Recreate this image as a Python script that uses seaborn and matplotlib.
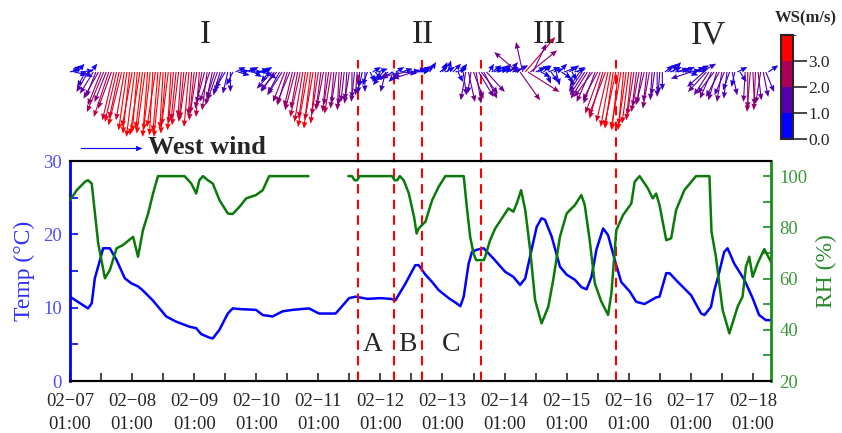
import numpy as np
import pandas as pd
import matplotlib
matplotlib.use("Agg")
import matplotlib.pyplot as plt
import seaborn as sns
from matplotlib.colors import LinearSegmentedColormap, ListedColormap, BoundaryNorm, Normalize
import matplotlib.colorbar as mcolorbar

nan = np.nan

# ---------------- data (hours since 02-07 01:00) ----------------
temp_hours = [0, 3, 7, 8.4, 9.6, 11.6, 12.8, 15.4, 18, 21.2, 23.8, 26.3, 28, 32, 37.2, 41,
              46.2, 48.8, 50.7, 54, 55.2, 57.8, 61, 62.9, 66, 71.9, 74.5, 78.3, 82.2, 86,
              92.4, 96.3, 102.7, 107.9, 110.4, 115, 120, 124, 125.8, 129.7, 133.5, 134.8,
              137.4, 140, 142.5, 146.4, 149, 150.9, 152.2, 154.1, 155.4, 157.3, 159.9,
              163.7, 168.2, 171.4, 174, 176, 177.8, 180.4, 182.3, 183.6, 186.2, 189.4, 192,
              195.2, 197.7, 199.7, 201.6, 203.5, 206.1, 208, 210.6, 213.1, 216.4, 218.9,
              222.1, 226.6, 227.9, 230.5, 231.8, 235, 240.1, 244, 245.3, 247.8, 249.1,
              250.4, 252.9, 254.2, 256.8, 260.7, 263.9, 266.4, 269, 271]
temp_values = [11.5, 10.8, 9.9, 10.6, 14.0, 16.5, 18.1, 18.1, 16.5, 14.0, 13.3, 12.9, 12.4,
               11.0, 8.8, 8.1, 7.4, 7.2, 6.4, 5.9, 5.8, 7.0, 9.2, 9.9, 9.8, 9.7, 9.0, 8.8,
               9.5, 9.7, 9.9, 9.2, 9.2, 11.3, 11.5, 11.2, 11.3, 11.2, 11.0, 13.3, 15.8, 15.8,
               14.5, 13.5, 12.4, 11.3, 10.7, 10.2, 11.5, 16.0, 17.6, 17.9, 18.1, 16.7, 14.9,
               14.2, 13.1, 14.0, 16.9, 21.0, 22.2, 22.0, 19.7, 15.6, 14.5, 13.8, 12.8, 12.5,
               14.2, 17.9, 20.8, 19.9, 16.5, 13.5, 12.2, 10.8, 10.5, 11.4, 11.5, 14.7, 14.7,
               13.5, 11.7, 9.2, 9.0, 10.1, 12.4, 14.0, 17.6, 18.1, 16.0, 13.8, 11.3, 9.0,
               8.3, 8.3]

rh_hours = [0, 2.6, 5.8, 7, 8.4, 10.9, 13.5, 15.4, 18, 20.5, 24.4, 26.3, 28.2, 30.2, 32.1,
            34, 44.3, 46.9, 48.8, 50, 51.4, 53.3, 55.2, 57.8, 61, 62.9, 65.5, 68.1, 71.9,
            74.5, 77, 92.2, 92.5, 107.6, 109, 110, 111, 112, 124.5, 125.5, 126.5, 127.5,
            129, 131, 133, 134, 134.8, 137.4, 140, 142.5, 145.1, 152.2, 153.4, 154.7, 156,
            157, 160, 160.5, 162.4, 164.4, 166.9, 169.5, 171.4, 172.7, 174.4, 176, 177.9,
            179.8, 182.3, 184.9, 186.8, 189.4, 192, 195.2, 197.7, 199, 200.9, 202.9, 205.4,
            208, 209.3, 211.2, 213.8, 217, 218.3, 220.2, 223.4, 225.3, 226.6, 227.9, 230.5,
            232.4, 234.3, 237.5, 240.7, 242, 247.2, 248, 249.7, 252.3, 254.9, 258.1, 260,
            261.3, 262.6, 263.9, 265.8, 268.4, 271]
rh_values = [90.6, 94.5, 97.8, 98.4, 97.1, 73.7, 60.1, 63.3, 71.8, 73.1, 76.3, 68.5, 78.9,
             85.4, 93.2, 100, 100, 97.1, 93.2, 98.4, 100, 98.4, 97.1, 90.6, 85.4, 85.2, 88.0,
             91.3, 92.6, 94.5, 100, 100, nan, 100, 100, 98.4, 98.4, 100, 100, 98.4, 98.4,
             100, 98.4, 93.2, 84.1, 77.6, 79.6, 82.2, 90.6, 95.8, 100, 100, 88.0, 76.3, 69.8,
             67.2, 67.2, 68.5, 75.0, 79.6, 83.4, 87.4, 86.1, 89.3, 94.5, 86.7, 71.1, 51.6,
             42.5, 49.0, 59.4, 76.3, 85.4, 88.7, 92.6, 88.7, 75.0, 58.1, 51.0, 45.8, 54.2,
             78.9, 84.8, 89.3, 97.8, 100, 95.2, 91.3, 93.2, 88.7, 75.0, 75.7, 86.7, 94.5,
             98.4, 100, 100, 78.3, 68.5, 47.7, 38.6, 49.0, 52.9, 64.6, 68.5, 60.7, 65.9,
             71.5, 66.5]

# hourly wind components (m/s), hour 0 .. 270
wind_u = [0.6, 0.5, 0.7, 0.4, 0.8, 0.6, -0.5, -0.7, 0.4, -0.8,
          -0.6, -0.9, -0.8, -1.0, -0.7, -0.9, -0.8, -0.7, -0.7, -0.6,
          -0.8, -0.5, -0.5, -0.4, -0.6, -0.5, -0.3, -0.6, -0.4, -0.5,
          -0.3, -0.4, -0.2, -0.5, -0.3, -0.4, -0.2, -0.3, -0.4, -0.2,
          -0.3, -0.3, -0.4, -0.2, -0.3, -0.4, -0.3, -0.2, -0.3, -0.4,
          -0.2, -0.4, -0.5, -0.3, -0.6, -0.4, -0.5, -0.6, -0.4, -0.5,
          -0.6, -0.3, 0.0, -0.4, 0.6, 0.7, 0.5, 0.8, nan, 0.6,
          0.7, 0.5, 0.8, 0.6, 0.7, 0.5, 0.6, -0.5, -0.9, -0.8,
          -1.0, -0.7, -0.9, -0.7, -0.6, -0.8, -0.5, -0.6, -0.4, -0.6,
          -0.5, -0.4, -0.6, -0.4, -0.5, -0.3, -0.4, -0.3, -0.4, -0.2,
          -0.3, -0.4, -0.2, -0.3, -0.1, -0.2, -0.2, -0.1, -0.3, 0.0,
          -0.2, -0.1, -0.1, -0.2, 0.0, -0.3, 0.3, 0.5, 0.4, 0.6,
          -0.5, -0.6, -0.3, -0.7, 0.6, -0.8, 0.5, -0.6, 0.7, 0.8,
          -1.5, 0.7, 0.9, -1.3, 0.8, 0.7, 0.5, 0.6, nan, 0.4,
          nan, nan, nan, 0.5, 0.3, 0.6, 0.2, nan, 0.5, 0.7,
          0.3, 0.4, 0.2, -0.3, 0.4, -0.2, 0.6, 0.3, 0.9, 1.0,
          0.8, 1.1, 0.3, 0.6, 0.5, 0.7, 0.5, 0.6, 0.4, 0.7,
          0.5, 0.6, 0.8, -1.4, 1.2, -0.4, 1.8, 1.9, 1.6, 0.8,
          0.6, 0.7, 0.6, 0.5, 0.3, 0.7, 0.4, 0.6, 0.2, 0.5,
          0.6, 0.8, 0.4, 0.6, 0.3, 0.7, 0.5, -0.6, -0.8, -0.9,
          -1.0, -0.8, -1.1, -0.7, -0.9, -0.9, -0.8, -1.0, -0.7, -0.6,
          -0.5, -0.7, -0.4, -0.6, -0.3, -0.5, -0.4, -0.3, -0.4, -0.3,
          -0.4, -0.3, -0.5, -0.2, -0.4, -0.1, -0.2, 0.0, -0.1, 0.0,
          0.5, 0.6, 0.7, 0.5, 0.8, 0.8, nan, 0.7, 0.9, 0.6,
          -1.2, 0.7, 0.8, 0.6, 0.9, -1.0, -1.1, -0.9, -0.7, -1.0,
          -0.5, -0.8, -0.3, -0.6, -0.2, -0.4, 0.3, -0.2, 0.6, 0.4,
          nan, -0.1, 0.0, -0.2, 0.1, -0.1, 0.2, -0.3, 0.3, 0.5, 0.6]
wind_v = [0.2, 0.4, -0.2, 0.5, 0.1, -0.3, -0.9, -1.2, 0.5, -1.3,
          -1.5, -1.6, -2.0, -2.4, -1.8, -2.7, -2.2, -2.9, -3.0, -2.8,
          -3.2, -2.9, -3.5, -3.7, -3.3, -3.9, -3.6, -3.8, -3.4, -3.7,
          -3.9, -3.5, -3.8, -3.3, -3.6, -3.9, -3.4, -3.7, -3.2, -3.5,
          -3.1, -2.9, -3.2, -2.7, -3.0, -2.8, -3.3, -2.6, -2.9, -2.5,
          -2.7, -2.2, -1.9, -2.3, -1.8, -2.0, -1.6, -1.7, -1.4, -1.2,
          -1.0, -1.3, -1.2, -0.8, 0.3, -0.2, 0.1, 0.2, nan, 0.3,
          0.0, -0.3, 0.1, 0.2, -0.2, 0.3, -0.4, -0.6, -1.0, -1.2,
          -1.1, -1.3, -1.4, -1.8, -2.0, -1.9, -2.1, -2.3, -2.2, -2.7,
          -3.0, -2.8, -3.3, -3.4, -2.9, -3.1, -2.6, -2.3, -2.1, -2.4,
          -2.0, -2.5, -2.2, -1.9, -2.3, -2.0, -1.8, -1.7, -1.9, -1.6,
          -1.8, -1.4, -1.3, -0.9, -1.2, -0.8, -0.6, 0.3, -0.5, 0.2,
          -0.6, -0.8, -1.2, -0.5, -0.3, -0.4, 0.3, -0.6, 0.2, -0.1,
          -0.3, 0.1, 0.2, -0.4, 0.1, 0.3, 0.1, 0.4, nan, 0.6,
          nan, nan, nan, 0.4, 0.6, 0.3, 0.7, nan, 0.5, 0.2,
          -0.6, 0.5, -1.4, -1.7, -1.8, -1.3, -1.6, -1.9, -1.5, -1.3,
          -1.6, -1.2, 0.5, 0.4, 0.3, 0.2, 0.4, 0.2, 0.5, 0.3,
          0.6, 0.2, 0.4, 1.2, -1.7, 1.8, 2.1, -1.2, 1.3, 1.7,
          0.3, 0.4, -0.3, 0.4, -0.7, 0.3, -0.6, 0.2, -0.8, 0.5,
          -0.4, 0.3, -0.7, 0.4, -0.5, 0.2, 0.3, -0.9, -1.2, -1.4,
          -1.6, -1.8, -1.5, -1.9, -1.7, -2.5, -2.8, -2.6, -3.0, -3.3,
          -3.4, -3.3, -3.5, -3.4, -3.2, -3.5, -3.1, -2.9, -2.6, -2.4,
          -2.1, -1.9, -2.0, -1.8, -2.2, -1.7, -1.4, -1.5, -1.3, -1.1,
          0.4, 0.5, 0.3, 0.6, 0.2, 0.2, nan, 0.3, 0.1, -0.2,
          -0.4, 0.3, 0.4, 0.2, 0.5, -0.9, -1.2, -1.4, -1.6, -1.3,
          -1.7, -1.5, -1.8, -1.4, -1.6, -1.1, -1.4, -0.9, 0.3, -0.6,
          nan, -1.8, -2.2, -2.4, -2.0, -2.3, -1.7, -1.9, -1.5, -1.2, 0.4]

day_hours = [0, 24, 48, 72, 96, 120, 144, 168, 192, 216, 240, 264]
day_labels = ["02\u221207\n01:00", "02\u221208\n01:00", "02\u221209\n01:00", "02\u221210\n01:00",
              "02\u221211\n01:00", "02\u221212\n01:00", "02\u221213\n01:00", "02\u221214\n01:00",
              "02\u221215\n01:00", "02\u221216\n01:00", "02\u221217\n01:00", "02\u221218\n01:00"]
divider_hours = [111.2, 125.2, 135.9, 158.9, 210.9]
stage_names = ["I", "II", "III", "IV"]
stage_hours = [52.2, 136.5, 185.5, 246.6]
event_names = ["A", "B", "C"]
event_hours = [117.1, 130.3, 147.3]
ws_bounds = [0, 1, 2, 3, 4]
ws_ticks = [0, 1, 2, 3]
ws_ticklabels = ["0.0", "1.0", "2.0", "3.0"]

# ---------------- style ----------------
sns.set_style("ticks")
plt.rcParams["font.family"] = ["Liberation Serif", "DejaVu Serif"]

W, H = 842, 433
fig = plt.figure(figsize=(W / 100, H / 100), dpi=100)
ax = fig.add_axes([70 / W, 52 / H, 701 / W, 220 / H])
ax2 = ax.twinx()
axq = fig.add_axes([70 / W, 272 / H, 701 / W, 131 / H], sharex=ax)

BLUE = "#0000ff"
GREEN = "#0a7a0a"

df_t = pd.DataFrame({"hour": temp_hours, "temp": temp_values})
sns.lineplot(data=df_t, x="hour", y="temp", ax=ax, color=BLUE, lw=1.8, sort=False)

df_rh = pd.DataFrame({"hour": rh_hours, "rh": rh_values})
df_rh["seg"] = df_rh["rh"].isna().cumsum()
df_rh = df_rh.dropna()
sns.lineplot(data=df_rh, x="hour", y="rh", units="seg", estimator=None, ax=ax2,
             color=GREEN, lw=1.8, sort=False)

# dividers
for h in divider_hours:
    ax.plot([h, h], [0, 43.8], color="red", lw=1.5, ls=(0, (4.5, 3)), clip_on=False, zorder=5)

for name, h in zip(event_names, event_hours):
    ax.text(h, 5.0, name, fontsize=20, ha="center", va="center")

ax.set_xlim(0, 271)
ax.set_ylim(0, 30)
ax2.set_ylim(20, 105.9)

ax.set_xticks(day_hours)
ax.set_xticklabels(day_labels)
ax.set_xticks([h + 12 for h in day_hours[:-1]], minor=True)
ax.tick_params(axis="x", which="both", direction="in", length=6, width=1.2,
               labelsize=13.5, pad=9, top=False)
for lab in ax.get_xticklabels():
    lab.set_linespacing(1.45)
ax.set_yticks([0, 10, 20, 30])
ax.set_yticks([5, 15, 25], minor=True)
ax.tick_params(axis="y", which="both", direction="in", length=6, width=1.2,
               color=BLUE, labelcolor="#4d4dff", labelsize=13.5, pad=6)
ax2.set_yticks([20, 40, 60, 80, 100])
ax2.set_yticks([30, 50, 70, 90], minor=True)
ax2.tick_params(axis="y", which="both", direction="in", length=6, width=1.2,
                color="#1a8c1a", labelcolor="#3a9a3a", labelsize=13.5, pad=6)

ax.set_xlabel("")
ax.set_ylabel("Temp (\u00b0C)", color="#3030ff", fontsize=17, labelpad=6)
ax2.set_ylabel("RH (%)", color="#2a8a2a", fontsize=17, labelpad=6)

for a in (ax, ax2):
    a.spines["top"].set_color("black")
    a.spines["bottom"].set_color("black")
    a.spines["top"].set_linewidth(1.5)
    a.spines["bottom"].set_linewidth(1.5)
ax.spines["left"].set_color(BLUE)
ax.spines["left"].set_linewidth(2)
ax.spines["right"].set_visible(False)
ax2.spines["left"].set_visible(False)
ax2.spines["right"].set_color("#1a8c1a")
ax2.spines["right"].set_linewidth(2)

# wind vectors
hours_w = np.arange(len(wind_u))
u = np.array(wind_u, dtype=float)
v = np.array(wind_v, dtype=float)
ws = np.hypot(u, v)
m = ~np.isnan(u)
cmap_arrow = LinearSegmentedColormap.from_list("br", ["#0000ff", "#ff0000"])
q = axq.quiver(hours_w[m], np.zeros(m.sum()), u[m], v[m], ws[m], cmap=cmap_arrow,
               norm=Normalize(0.5, 3.5), pivot="tail", angles="uv", scale_units="inches",
               scale=6.0, width=0.0016, headwidth=5, headlength=6, headaxislength=5.5,
               clip_on=False)
axq.set_ylim(-89, 42)
axq.axis("off")
for name, h in zip(stage_names, stage_hours):
    axq.text(h, 37, name, fontsize=24, ha="center", va="center")

axq.quiverkey(q, X=142 / W, Y=1 - 148 / H, U=3.7, label="West wind", labelpos="E",
              coordinates="figure", color="blue", labelsep=0.06,
              fontproperties={"weight": "bold", "size": 19, "family": "Liberation Serif"})

# colorbar
cax = fig.add_axes([781 / W, (H - 139) / H, 12 / W, 104 / H])
band_cmap = ListedColormap(["#0000ff", "#5500aa", "#aa0055", "#ff0000"])
cb = mcolorbar.ColorbarBase(cax, cmap=band_cmap, norm=BoundaryNorm(ws_bounds, 4),
                            ticks=ws_ticks, orientation="vertical")
cb.set_ticklabels(ws_ticklabels)
cax.tick_params(length=10, width=1.2, labelsize=12.5, pad=1, direction="out")
cb.outline.set_linewidth(1.5)
fig.text(806 / W, 1 - 18 / H, "WS(m/s)", ha="center", va="center", fontsize=12,
         fontweight="bold")

fig.savefig("out.png", dpi=100)
